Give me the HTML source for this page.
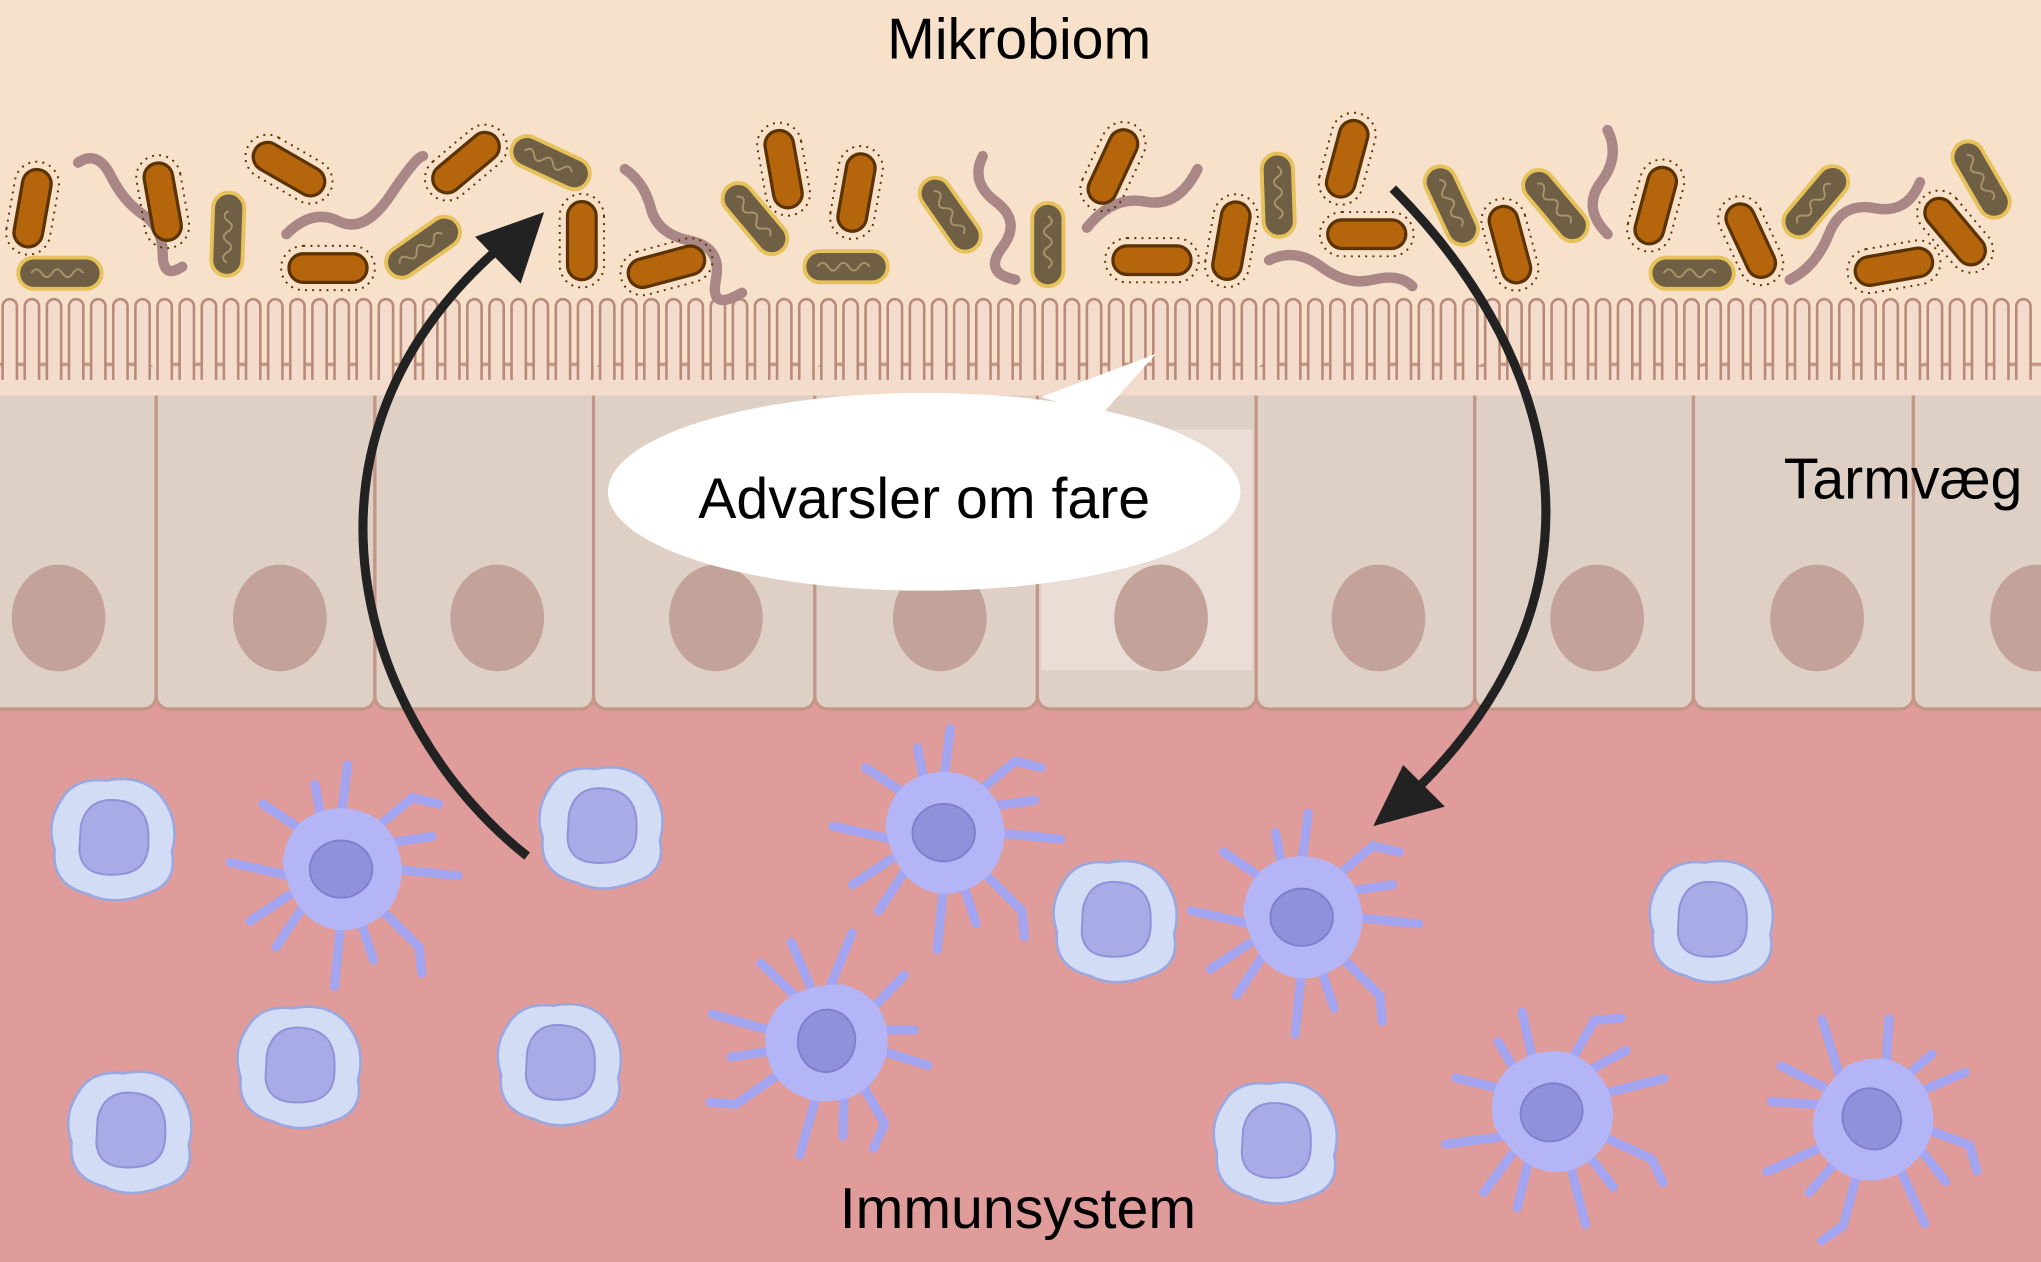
<!DOCTYPE html>
<html><head><meta charset="utf-8"><style>
html,body{margin:0;padding:0;background:#e09b9b}
svg{display:block}
text{font-family:"Liberation Sans",sans-serif}
</style></head><body>
<svg width="2041" height="1262" viewBox="0 0 1568 970" preserveAspectRatio="none" xmlns="http://www.w3.org/2000/svg">
<defs>
<g id="rod"><rect x="-30" y="-11" width="60" height="22" rx="11" fill="#b5650c" stroke="#5a3300" stroke-width="2.5"/><rect x="-36" y="-17" width="72" height="34" rx="17" fill="none" stroke="#5a3300" stroke-width="1.5" stroke-dasharray="1.5 4"/></g>
<g id="grod"><rect x="-32" y="-12" width="64" height="24" rx="12" fill="#6e5f45" stroke="#e7c25a" stroke-width="3"/><path d="M-22 0 q4 -6 8 0 t8 0 t8 0 t8 0 t8 0" fill="none" stroke="#a8946a" stroke-width="1.5"/></g>
<g id="imm"><path d="M-40 -30 Q-30 -48 -5 -45 Q20 -50 35 -35 Q52 -15 45 10 Q50 35 25 42 Q0 52 -20 42 Q-48 35 -45 8 Q-52 -12 -40 -30Z" fill="#d3dcf5" stroke="#9ba8e0" stroke-width="2"/><path d="M-25 -10 Q-20 -32 2 -30 Q28 -28 27 0 Q28 25 5 27 Q-25 30 -26 8Z" fill="#a9abe6" stroke="#8f92d8" stroke-width="1.5"/></g>
<g id="den" stroke="#a3a5f0" stroke-linecap="round" fill="none">
<path d="M0 -40 L5 -80 M25 -30 L55 -55 L75 -50 M40 0 L90 5 M30 30 L60 60 L62 80 M0 40 L-5 90 M-30 30 L-50 60 M-40 5 L-85 -5 M-30 -30 L-60 -50 M-15 -38 L-20 -65 M35 -20 L70 -25 M15 40 L25 70 M-40 20 L-70 40" stroke-width="7"/>
<path d="M-45 -5 Q-40 -45 0 -47 Q42 -45 47 0 Q45 40 5 47 Q-35 48 -45 -5Z" fill="#b4b5f7" stroke="none"/>
<ellipse cx="0" cy="0" rx="24" ry="22" fill="#9091db" stroke="#7f80cc" stroke-width="1.5"/>
</g>
</defs>
<rect width="1568" height="300" fill="#f8e1cb"/>
<rect y="540" width="1568" height="430" fill="#e09b9b"/>
<g fill="#dfd0c6" stroke="#c39686" stroke-width="2.5">
<rect x="-50" y="280" width="170" height="265" rx="10"/>
<rect x="120" y="280" width="168" height="265" rx="10"/>
<rect x="288" y="280" width="168" height="265" rx="10"/>
<rect x="456" y="280" width="170" height="265" rx="10"/>
<rect x="626" y="280" width="171" height="265" rx="10"/>
<rect x="797" y="280" width="168" height="265" rx="10"/>
<rect x="965" y="280" width="168" height="265" rx="10"/>
<rect x="1133" y="280" width="168" height="265" rx="10"/>
<rect x="1301" y="280" width="169" height="265" rx="10"/>
<rect x="1470" y="280" width="150" height="265" rx="10"/>
</g>
<rect x="800" y="330" width="162" height="185" fill="#ece2dc" opacity="0.7"/>
<g fill="#c2a299">
<ellipse cx="45" cy="475" rx="36" ry="41"/><ellipse cx="215" cy="475" rx="36" ry="41"/><ellipse cx="382" cy="475" rx="36" ry="41"/><ellipse cx="550" cy="475" rx="36" ry="41"/><ellipse cx="722" cy="475" rx="36" ry="41"/><ellipse cx="892" cy="475" rx="36" ry="41"/><ellipse cx="1059" cy="475" rx="36" ry="41"/><ellipse cx="1227" cy="475" rx="36" ry="41"/><ellipse cx="1396" cy="475" rx="36" ry="41"/><ellipse cx="1565" cy="475" rx="36" ry="41"/>
</g>
<rect x="0" y="282" width="1568" height="22" fill="#f3dccb"/>
<g fill="#f3dccb" stroke="#b98a7a" stroke-width="2">
<rect x="2" y="230" width="11" height="72" rx="5.5"/><rect x="19" y="230" width="11" height="72" rx="5.5"/><rect x="36" y="230" width="11" height="72" rx="5.5"/><rect x="53" y="230" width="11" height="72" rx="5.5"/><rect x="70" y="230" width="11" height="72" rx="5.5"/><rect x="87" y="230" width="11" height="72" rx="5.5"/><rect x="104" y="230" width="11" height="72" rx="5.5"/><rect x="121" y="230" width="11" height="72" rx="5.5"/><rect x="138" y="230" width="11" height="72" rx="5.5"/><rect x="155" y="230" width="11" height="72" rx="5.5"/><rect x="172" y="230" width="11" height="72" rx="5.5"/><rect x="189" y="230" width="11" height="72" rx="5.5"/><rect x="206" y="230" width="11" height="72" rx="5.5"/><rect x="223" y="230" width="11" height="72" rx="5.5"/><rect x="240" y="230" width="11" height="72" rx="5.5"/><rect x="257" y="230" width="11" height="72" rx="5.5"/><rect x="274" y="230" width="11" height="72" rx="5.5"/><rect x="291" y="230" width="11" height="72" rx="5.5"/><rect x="308" y="230" width="11" height="72" rx="5.5"/><rect x="325" y="230" width="11" height="72" rx="5.5"/><rect x="342" y="230" width="11" height="72" rx="5.5"/><rect x="359" y="230" width="11" height="72" rx="5.5"/><rect x="376" y="230" width="11" height="72" rx="5.5"/><rect x="393" y="230" width="11" height="72" rx="5.5"/><rect x="410" y="230" width="11" height="72" rx="5.5"/><rect x="427" y="230" width="11" height="72" rx="5.5"/><rect x="444" y="230" width="11" height="72" rx="5.5"/><rect x="461" y="230" width="11" height="72" rx="5.5"/><rect x="478" y="230" width="11" height="72" rx="5.5"/><rect x="495" y="230" width="11" height="72" rx="5.5"/><rect x="512" y="230" width="11" height="72" rx="5.5"/><rect x="529" y="230" width="11" height="72" rx="5.5"/><rect x="546" y="230" width="11" height="72" rx="5.5"/><rect x="563" y="230" width="11" height="72" rx="5.5"/><rect x="580" y="230" width="11" height="72" rx="5.5"/><rect x="597" y="230" width="11" height="72" rx="5.5"/><rect x="614" y="230" width="11" height="72" rx="5.5"/><rect x="631" y="230" width="11" height="72" rx="5.5"/><rect x="648" y="230" width="11" height="72" rx="5.5"/><rect x="665" y="230" width="11" height="72" rx="5.5"/><rect x="682" y="230" width="11" height="72" rx="5.5"/><rect x="699" y="230" width="11" height="72" rx="5.5"/><rect x="716" y="230" width="11" height="72" rx="5.5"/><rect x="733" y="230" width="11" height="72" rx="5.5"/><rect x="750" y="230" width="11" height="72" rx="5.5"/><rect x="767" y="230" width="11" height="72" rx="5.5"/><rect x="784" y="230" width="11" height="72" rx="5.5"/><rect x="801" y="230" width="11" height="72" rx="5.5"/><rect x="818" y="230" width="11" height="72" rx="5.5"/><rect x="835" y="230" width="11" height="72" rx="5.5"/><rect x="852" y="230" width="11" height="72" rx="5.5"/><rect x="869" y="230" width="11" height="72" rx="5.5"/><rect x="886" y="230" width="11" height="72" rx="5.5"/><rect x="903" y="230" width="11" height="72" rx="5.5"/><rect x="920" y="230" width="11" height="72" rx="5.5"/><rect x="937" y="230" width="11" height="72" rx="5.5"/><rect x="954" y="230" width="11" height="72" rx="5.5"/><rect x="971" y="230" width="11" height="72" rx="5.5"/><rect x="988" y="230" width="11" height="72" rx="5.5"/><rect x="1005" y="230" width="11" height="72" rx="5.5"/><rect x="1022" y="230" width="11" height="72" rx="5.5"/><rect x="1039" y="230" width="11" height="72" rx="5.5"/><rect x="1056" y="230" width="11" height="72" rx="5.5"/><rect x="1073" y="230" width="11" height="72" rx="5.5"/><rect x="1090" y="230" width="11" height="72" rx="5.5"/><rect x="1107" y="230" width="11" height="72" rx="5.5"/><rect x="1124" y="230" width="11" height="72" rx="5.5"/><rect x="1141" y="230" width="11" height="72" rx="5.5"/><rect x="1158" y="230" width="11" height="72" rx="5.5"/><rect x="1175" y="230" width="11" height="72" rx="5.5"/><rect x="1192" y="230" width="11" height="72" rx="5.5"/><rect x="1209" y="230" width="11" height="72" rx="5.5"/><rect x="1226" y="230" width="11" height="72" rx="5.5"/><rect x="1243" y="230" width="11" height="72" rx="5.5"/><rect x="1260" y="230" width="11" height="72" rx="5.5"/><rect x="1277" y="230" width="11" height="72" rx="5.5"/><rect x="1294" y="230" width="11" height="72" rx="5.5"/><rect x="1311" y="230" width="11" height="72" rx="5.5"/><rect x="1328" y="230" width="11" height="72" rx="5.5"/><rect x="1345" y="230" width="11" height="72" rx="5.5"/><rect x="1362" y="230" width="11" height="72" rx="5.5"/><rect x="1379" y="230" width="11" height="72" rx="5.5"/><rect x="1396" y="230" width="11" height="72" rx="5.5"/><rect x="1413" y="230" width="11" height="72" rx="5.5"/><rect x="1430" y="230" width="11" height="72" rx="5.5"/><rect x="1447" y="230" width="11" height="72" rx="5.5"/><rect x="1464" y="230" width="11" height="72" rx="5.5"/><rect x="1481" y="230" width="11" height="72" rx="5.5"/><rect x="1498" y="230" width="11" height="72" rx="5.5"/><rect x="1515" y="230" width="11" height="72" rx="5.5"/><rect x="1532" y="230" width="11" height="72" rx="5.5"/><rect x="1549" y="230" width="11" height="72" rx="5.5"/>
</g>
<rect x="0" y="292" width="1568" height="12" fill="#f3dccb"/>
<g fill="none" stroke="#a88786" stroke-width="8" stroke-linecap="round">
<path d="M60 125 q15 -10 25 10 t25 30 t15 30 t15 10"/>
<path d="M220 180 q20 -20 40 -10 t40 -20 t25 -30"/>
<path d="M480 130 q15 10 20 30 t30 25 t20 30 t20 10"/>
<path d="M755 120 q-10 20 10 35 t5 35 t10 25"/>
<path d="M835 175 q20 -25 45 -20 t40 -25"/>
<path d="M975 200 q20 -10 40 5 t40 10 t30 5"/>
<path d="M1235 100 q10 20 -5 40 t5 40"/>
<path d="M1375 215 q20 -10 30 -35 t35 -20 t35 -20"/>
</g>
<use href="#rod" transform="translate(25,160) rotate(-80)"/>
<use href="#rod" transform="translate(125,155) rotate(80)"/>
<use href="#rod" transform="translate(222,130) rotate(30)"/>
<use href="#rod" transform="translate(358,125) rotate(-40)"/>
<use href="#rod" transform="translate(252,206)"/>
<use href="#rod" transform="translate(447,185) rotate(90)"/>
<use href="#rod" transform="translate(512,205) rotate(-15)"/>
<use href="#rod" transform="translate(602,130) rotate(80)"/>
<use href="#rod" transform="translate(658,148) rotate(-80)"/>
<use href="#rod" transform="translate(855,128) rotate(-65)"/>
<use href="#rod" transform="translate(885,200)"/>
<use href="#rod" transform="translate(946,185) rotate(-80)"/>
<use href="#rod" transform="translate(1035,122) rotate(-75)"/>
<use href="#rod" transform="translate(1050,180)"/>
<use href="#rod" transform="translate(1160,188) rotate(75)"/>
<use href="#rod" transform="translate(1272,158) rotate(-75)"/>
<use href="#rod" transform="translate(1345,185) rotate(65)"/>
<use href="#rod" transform="translate(1455,205) rotate(-10)"/>
<use href="#rod" transform="translate(1502,178) rotate(50)"/>
<use href="#grod" transform="translate(46,210)"/>
<use href="#grod" transform="translate(175,180) rotate(-88)"/>
<use href="#grod" transform="translate(325,190) rotate(-35)"/>
<use href="#grod" transform="translate(423,125) rotate(25)"/>
<use href="#grod" transform="translate(580,168) rotate(50)"/>
<use href="#grod" transform="translate(650,205)"/>
<use href="#grod" transform="translate(730,165) rotate(55)"/>
<use href="#grod" transform="translate(805,188) rotate(90)"/>
<use href="#grod" transform="translate(982,150) rotate(88)"/>
<use href="#grod" transform="translate(1115,158) rotate(65)"/>
<use href="#grod" transform="translate(1195,158) rotate(50)"/>
<use href="#grod" transform="translate(1300,210)"/>
<use href="#grod" transform="translate(1395,155) rotate(-50)"/>
<use href="#grod" transform="translate(1522,138) rotate(60)"/>
<path d="M800 305 L888 272 L845 320 Z" fill="#fff"/>
<ellipse cx="710" cy="378" rx="243" ry="76" fill="#fff"/>
<use href="#imm" transform="translate(87,645)"/>
<use href="#imm" transform="translate(462,636)"/>
<use href="#imm" transform="translate(857,708)"/>
<use href="#imm" transform="translate(230,820)"/>
<use href="#imm" transform="translate(430,818)"/>
<use href="#imm" transform="translate(100,870)"/>
<use href="#imm" transform="translate(980,878)"/>
<use href="#imm" transform="translate(1315,708)"/>
<use href="#den" transform="translate(262,668)"/>
<use href="#den" transform="translate(725,640)"/>
<use href="#den" transform="translate(1000,705)"/>
<use href="#den" transform="translate(635,800) rotate(100)"/>
<use href="#den" transform="translate(1192,855) rotate(-20)"/>
<use href="#den" transform="translate(1438,860) rotate(60)"/>
<path d="M405 658 C280 560 205 340 390 185" fill="none" stroke="#222" stroke-width="7"/>
<path d="M418 163 L365 182 L400 218 Z" fill="#222"/>
<path d="M1070 145 C1185 260 1255 440 1090 605" fill="none" stroke="#222" stroke-width="7"/>
<path d="M1055 635 L1110 620 L1078 588 Z" fill="#222"/>
<text x="783" y="45" font-size="44" text-anchor="middle" fill="#000">Mikrobiom</text>
<text x="710" y="398" font-size="44" text-anchor="middle" fill="#000">Advarsler om fare</text>
<text x="1462" y="383" font-size="44" text-anchor="middle" fill="#000">Tarmvæg</text>
<text x="782" y="944" font-size="44" text-anchor="middle" fill="#000">Immunsystem</text>
</svg>
</body></html>
